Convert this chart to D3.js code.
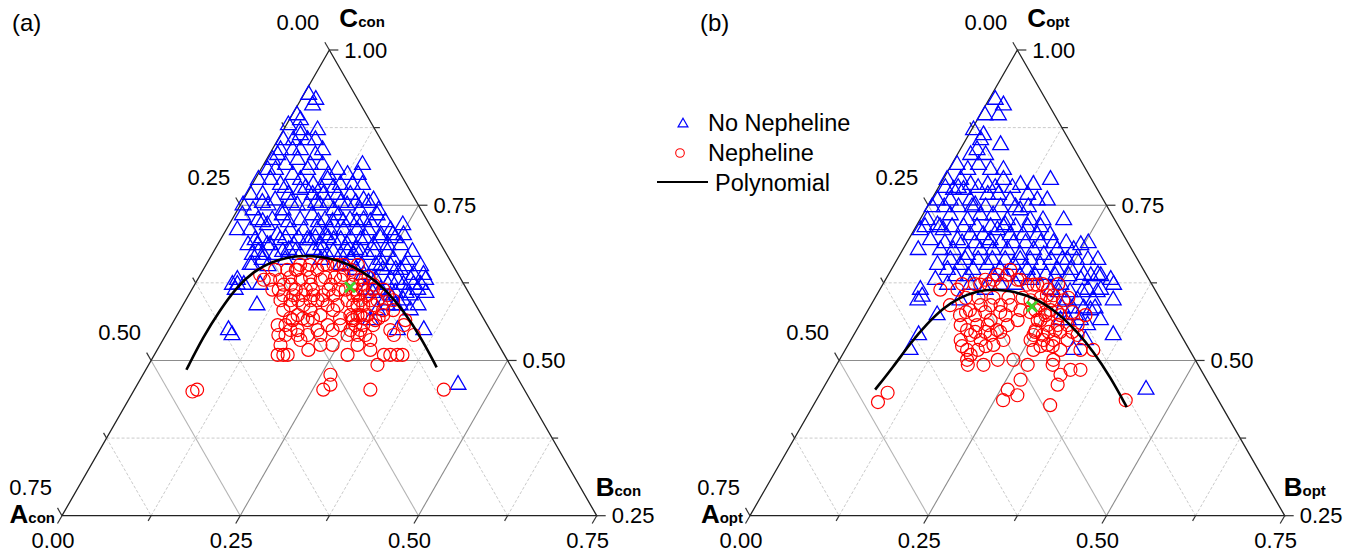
<!DOCTYPE html>
<html>
<head>
<meta charset="utf-8">
<script src="https://cdn.jsdelivr.net/npm/d3@7"></script>
<style>
  body { margin: 0; background: #fff; }
  text { font-family: "Liberation Sans", Arial, Helvetica, sans-serif; fill: #000; }
</style>
</head>
<body>
<svg id="chart" width="1360" height="555"></svg>
<script>
// ---- data: [B, C] pairs (A = 1 - B - C) ----
var majorTicks = [0, 0.25, 0.5, 0.75];
var minorTicks = [0.125, 0.375, 0.625];
var gridValues = [0.125, 0.25, 0.375, 0.5, 0.625];
var legendLabels = ["No Nepheline", "Nepheline", "Polynomial"];

var conNoNepheline = [
  [0.007,0.928],[0.021,0.920],[0.021,0.911],[0.007,0.895],[0.016,0.887],[0.003,0.879],[0.024,0.871],[0.048,0.871],[0.028,0.863],[0.008,0.855],
  [0.022,0.855],[0.042,0.855],[0.053,0.855],[0.012,0.839],[0.029,0.839],[0.040,0.839],[0.065,0.831],[0.071,0.839],[0.012,0.831],[0.009,0.823],
  [0.031,0.815],[0.044,0.823],[0.066,0.815],[0.083,0.815],[0.139,0.815],[0.010,0.807],[0.021,0.807],[0.049,0.799],[0.066,0.807],[0.099,0.799],
  [0.108,0.807],[0.126,0.799],[0.141,0.799],[0.155,0.783],[0.005,0.791],[0.022,0.791],[0.040,0.783],[0.064,0.791],[0.086,0.783],[0.102,0.791],
  [0.124,0.783],[0.141,0.783],[0.006,0.767],[0.023,0.767],[0.045,0.758],[0.059,0.767],[0.072,0.775],[0.093,0.767],[0.108,0.767],[0.128,0.767],
  [0.146,0.767],[0.169,0.758],[0.183,0.758],[0.004,0.750],[0.022,0.742],[0.039,0.750],[0.064,0.742],[0.080,0.750],[0.094,0.750],[0.112,0.750],
  [0.135,0.742],[0.150,0.750],[0.172,0.742],[0.198,0.742],[0.011,0.734],[0.037,0.726],[0.057,0.726],[0.067,0.734],[0.096,0.726],[0.109,0.734],
  [0.131,0.726],[0.146,0.734],[0.166,0.726],[0.185,0.726],[0.200,0.734],[0.231,0.710],[0.244,0.718],[0.016,0.710],[0.034,0.710],[0.054,0.718],
  [0.076,0.702],[0.090,0.710],[0.109,0.710],[0.128,0.710],[0.146,0.710],[0.165,0.710],[0.184,0.710],[0.200,0.710],[0.221,0.702],[0.238,0.702],
  [0.253,0.702],[0.049,0.694],[0.070,0.686],[0.084,0.694],[0.107,0.686],[0.122,0.694],[0.145,0.686],[0.159,0.694],[0.182,0.686],[0.197,0.694],
  [0.219,0.686],[0.239,0.686],[0.257,0.686],[0.043,0.686],[0.057,0.670],[0.072,0.670],[0.089,0.670],[0.104,0.678],[0.124,0.670],[0.139,0.678],
  [0.162,0.670],[0.181,0.670],[0.199,0.670],[0.219,0.670],[0.241,0.662],[0.259,0.662],[0.279,0.662],[0.062,0.654],[0.252,0.646],[0.277,0.646],
  [0.299,0.638],[0.056,0.630],[0.053,0.622],[0.069,0.622],[0.281,0.630],[0.299,0.630],[0.317,0.622],[0.271,0.622],[0.056,0.686],[0.074,0.686],
  [0.065,0.654],[0.075,0.662],[0.060,0.622],[0.061,0.614],[0.092,0.622],[0.104,0.589],[0.084,0.549],[0.093,0.541],[0.313,0.638],[0.293,0.622],
  [0.317,0.614],[0.305,0.597],[0.323,0.581],[0.305,0.589],[0.287,0.589],[0.277,0.581],[0.275,0.565],[0.321,0.549],[0.358,0.549],[0.450,0.461],
  [0.229,0.638],[0.189,0.654],[0.214,0.646],[0.243,0.630],[0.265,0.614],[0.283,0.605],[0.244,0.614],[0.199,0.662],[0.238,0.654],[0.270,0.646],
  [0.280,0.597],[0.311,0.605],[0.307,0.622],[0.157,0.662],[0.126,0.694],[0.143,0.702],[0.169,0.694],[0.198,0.678],[0.107,0.662],
  [0.049,0.778],[0.078,0.778],[0.099,0.778],[0.117,0.778],
  [0.029,0.754],[0.069,0.754],[0.104,0.754],[0.121,0.754],[0.139,0.754],[0.160,0.754],[0.178,0.754],
  [0.045,0.723],[0.081,0.723],[0.123,0.723],[0.143,0.723],[0.158,0.723],[0.177,0.723],[0.196,0.723],[0.217,0.723],
  [0.057,0.697],[0.090,0.697],[0.108,0.697],[0.132,0.697],[0.150,0.697],[0.181,0.697],[0.202,0.697],[0.223,0.697],[0.244,0.697],
  [0.063,0.675],[0.097,0.675],[0.115,0.675],[0.150,0.675],[0.168,0.675],[0.188,0.675],[0.206,0.675],[0.225,0.675],[0.244,0.675],[0.279,0.675],
  [0.088,0.652],[0.196,0.652],[0.220,0.652],[0.246,0.652],[0.260,0.652],[0.281,0.652],[0.302,0.652],
  [0.250,0.630],[0.271,0.630],[0.320,0.630],
  [0.256,0.609],[0.288,0.609],[0.303,0.609],[0.331,0.609],
  [0.298,0.589],[0.330,0.589]
];
var conNepheline = [
  [0.084,0.638],[0.102,0.630],[0.132,0.646],[0.146,0.646],[0.160,0.646],[0.170,0.654],[0.184,0.654],[0.201,0.638],[0.116,0.630],[0.135,0.622],
  [0.145,0.630],[0.163,0.622],[0.173,0.630],[0.191,0.622],[0.201,0.630],[0.215,0.638],[0.237,0.622],[0.251,0.622],[0.133,0.605],[0.147,0.605],
  [0.161,0.605],[0.175,0.605],[0.189,0.605],[0.203,0.605],[0.237,0.605],[0.251,0.605],[0.269,0.597],[0.279,0.605],[0.133,0.597],[0.151,0.589],
  [0.169,0.589],[0.185,0.597],[0.203,0.589],[0.217,0.589],[0.239,0.589],[0.253,0.589],[0.267,0.589],[0.285,0.581],[0.145,0.581],[0.169,0.573],
  [0.183,0.581],[0.201,0.573],[0.215,0.581],[0.253,0.573],[0.267,0.573],[0.289,0.573],[0.299,0.581],[0.149,0.557],[0.160,0.557],[0.181,0.549],
  [0.187,0.565],[0.209,0.549],[0.219,0.557],[0.237,0.557],[0.251,0.565],[0.269,0.549],[0.283,0.557],[0.311,0.549],[0.326,0.557],[0.158,0.541],
  [0.168,0.541],[0.185,0.541],[0.199,0.541],[0.217,0.541],[0.255,0.541],[0.269,0.541],[0.291,0.533],[0.320,0.541],[0.348,0.541],[0.169,0.525],
  [0.181,0.509],[0.173,0.509],[0.187,0.509],[0.212,0.517],[0.225,0.525],[0.242,0.525],[0.271,0.509],[0.277,0.525],[0.299,0.517],[0.322,0.509],
  [0.331,0.509],[0.341,0.509],[0.348,0.509],[0.321,0.493],[0.263,0.477],[0.271,0.461],[0.265,0.453],[0.331,0.453],[0.434,0.453],[0.088,0.453],
  [0.083,0.450],[0.093,0.630],[0.132,0.654],[0.146,0.654],[0.165,0.654],[0.179,0.654],[0.193,0.654],[0.213,0.654],[0.130,0.646],[0.125,0.622],
  [0.231,0.605],[0.245,0.589],[0.257,0.573],[0.258,0.557],[0.269,0.557],[0.259,0.597],[0.240,0.614],[0.222,0.622],[0.216,0.614],[0.229,0.630],
  [0.243,0.573],[0.280,0.541],[0.170,0.614],[0.113,0.614],[0.166,0.565],[0.193,0.533],[0.282,0.565],[0.324,0.565],
  [0.101,0.646],[0.118,0.646],[0.207,0.646],
  [0.128,0.634],[0.156,0.634],[0.177,0.634],[0.191,0.634],[0.238,0.634],
  [0.122,0.614],[0.146,0.614],[0.160,0.614],[0.192,0.614],[0.206,0.614],[0.230,0.614],[0.254,0.614],[0.269,0.614],
  [0.147,0.597],[0.158,0.597],[0.175,0.597],[0.192,0.597],[0.227,0.597],[0.245,0.597],[0.291,0.597],
  [0.161,0.568],[0.179,0.568],[0.193,0.568],[0.231,0.568],[0.248,0.568],[0.264,0.568],[0.285,0.568],
  [0.171,0.549],[0.230,0.549],[0.255,0.549]
];
var conPolyB = [0.057,0.054,0.056,0.061,0.072,0.088,0.107,0.130,0.154,0.180,0.209,0.240,0.276,0.315,0.359,0.406];
var conPolyC = [0.485,0.538,0.581,0.619,0.643,0.658,0.666,0.669,0.667,0.662,0.651,0.635,0.611,0.579,0.538,0.489];
var conOptimum = [0.220, 0.618];

var optNoNepheline = [
  [0.009,0.920],[0.025,0.911],[0.026,0.895],[0.007,0.895],[0.003,0.871],[0.021,0.863],[0.053,0.847],[0.021,0.855],[0.024,0.839],[0.019,0.831],
  [0.040,0.831],[0.008,0.815],[0.027,0.807],[0.077,0.807],[0.059,0.807],[0.038,0.815],[0.006,0.791],[0.025,0.791],[0.043,0.783],[0.067,0.783],
  [0.085,0.791],[0.113,0.783],[0.131,0.783],[0.151,0.791],[0.023,0.775],[0.037,0.775],[0.009,0.758],[0.027,0.758],[0.055,0.758],[0.075,0.767],
  [0.090,0.767],[0.111,0.758],[0.131,0.767],[0.149,0.758],[0.163,0.758],[0.011,0.726],[0.029,0.718],[0.039,0.734],[0.067,0.726],[0.081,0.734],
  [0.099,0.734],[0.123,0.726],[0.133,0.742],[0.155,0.726],[0.173,0.726],[0.202,0.726],[0.009,0.710],[0.022,0.678],[0.031,0.694],[0.041,0.710],
  [0.069,0.694],[0.083,0.702],[0.101,0.702],[0.117,0.710],[0.139,0.702],[0.157,0.702],[0.177,0.702],[0.195,0.702],[0.217,0.678],[0.240,0.678],
  [0.246,0.686],[0.053,0.678],[0.071,0.678],[0.095,0.670],[0.109,0.678],[0.127,0.678],[0.147,0.678],[0.169,0.670],[0.184,0.678],[0.202,0.670],
  [0.239,0.662],[0.268,0.662],[0.282,0.662],[0.061,0.654],[0.079,0.646],[0.093,0.654],[0.115,0.646],[0.131,0.654],[0.153,0.646],[0.168,0.654],
  [0.191,0.646],[0.205,0.654],[0.233,0.646],[0.252,0.646],[0.274,0.638],[0.294,0.638],[0.316,0.630],[0.057,0.614],[0.062,0.597],[0.065,0.603],
  [0.101,0.573],[0.091,0.541],[0.091,0.517],[0.070,0.630],[0.091,0.622],[0.324,0.622],[0.336,0.597],[0.310,0.614],[0.308,0.597],[0.292,0.614],
  [0.274,0.630],[0.286,0.597],[0.320,0.557],[0.320,0.517],[0.364,0.541],[0.454,0.453],[0.240,0.614],[0.269,0.597],[0.250,0.622],[0.295,0.573],
  [0.278,0.565],[0.221,0.638],[0.204,0.630],[0.187,0.622],[0.165,0.622],[0.148,0.614],[0.123,0.622],[0.121,0.597],[0.173,0.662],[0.312,0.581],
  [0.334,0.565],[0.329,0.533],[0.115,0.694],[0.124,0.718],[0.066,0.750],
  [0.010,0.778],[0.028,0.778],[0.056,0.778],[0.080,0.778],[0.104,0.778],
  [0.007,0.747],[0.024,0.747],[0.044,0.747],[0.063,0.747],[0.082,0.747],[0.103,0.747],[0.124,0.747],[0.142,0.747],
  [0.013,0.715],[0.034,0.715],[0.051,0.715],[0.067,0.715],[0.086,0.715],[0.105,0.715],[0.123,0.715],[0.140,0.715],[0.157,0.715],[0.175,0.715],
  [0.054,0.689],[0.078,0.689],[0.096,0.689],[0.115,0.689],[0.132,0.689],[0.150,0.689],[0.167,0.689],[0.188,0.689],[0.206,0.689],[0.224,0.689],[0.255,0.689],
  [0.075,0.662],[0.096,0.662],[0.114,0.662],[0.134,0.662],[0.152,0.662],[0.187,0.662],[0.216,0.662],[0.232,0.662],[0.252,0.662],
  [0.095,0.636],[0.113,0.636],[0.148,0.636],[0.165,0.636],[0.186,0.636],[0.207,0.636],[0.235,0.636],[0.254,0.636],[0.285,0.636],[0.299,0.636],
  [0.253,0.610],[0.269,0.610],[0.286,0.610],[0.307,0.610],
  [0.271,0.584],[0.285,0.584],[0.301,0.584],[0.317,0.584],
  [0.289,0.565],[0.306,0.565]
];
var optNepheline = [
  [0.085,0.614],[0.109,0.614],[0.137,0.622],[0.152,0.630],[0.167,0.638],[0.189,0.630],[0.212,0.622],[0.236,0.614],[0.248,0.605],[0.266,0.597],
  [0.133,0.573],[0.143,0.581],[0.154,0.589],[0.168,0.589],[0.182,0.589],[0.196,0.589],[0.214,0.581],[0.220,0.597],[0.238,0.589],[0.256,0.581],
  [0.274,0.573],[0.142,0.557],[0.155,0.549],[0.165,0.557],[0.180,0.557],[0.197,0.549],[0.208,0.557],[0.218,0.565],[0.246,0.565],[0.264,0.557],
  [0.278,0.557],[0.292,0.557],[0.306,0.557],[0.154,0.533],[0.164,0.541],[0.182,0.533],[0.192,0.541],[0.214,0.533],[0.252,0.541],[0.270,0.533],
  [0.284,0.533],[0.304,0.533],[0.314,0.541],[0.171,0.517],[0.186,0.517],[0.204,0.525],[0.264,0.517],[0.280,0.525],[0.302,0.517],[0.348,0.517],
  [0.330,0.517],[0.179,0.501],[0.180,0.509],[0.222,0.501],[0.244,0.501],[0.268,0.493],[0.300,0.501],[0.303,0.493],[0.322,0.477],[0.332,0.485],
  [0.346,0.485],[0.184,0.493],[0.206,0.493],[0.270,0.469],[0.326,0.461],[0.260,0.453],[0.278,0.444],[0.262,0.436],[0.332,0.428],[0.094,0.448],
  [0.088,0.433],[0.434,0.436],[0.140,0.630],[0.153,0.638],[0.167,0.646],[0.185,0.630],[0.203,0.622],[0.217,0.622],[0.239,0.605],[0.235,0.581],
  [0.250,0.565],[0.253,0.573],[0.251,0.549],[0.265,0.541],[0.252,0.533],[0.248,0.597],[0.279,0.549],[0.154,0.573],[0.180,0.565],[0.197,0.573],
  [0.111,0.589],[0.309,0.573],
  [0.111,0.623],[0.129,0.623],[0.148,0.623],[0.167,0.623],[0.224,0.623],[0.246,0.623],
  [0.127,0.601],[0.145,0.601],[0.166,0.601],[0.187,0.601],[0.207,0.601],[0.232,0.601],[0.271,0.601],
  [0.139,0.578],[0.166,0.578],[0.187,0.578],[0.229,0.578],[0.250,0.578],[0.267,0.578],[0.288,0.578],
  [0.168,0.546],[0.182,0.546],[0.203,0.546],[0.252,0.546],[0.271,0.546],[0.287,0.546],[0.304,0.546],
  [0.161,0.523],[0.194,0.523],[0.271,0.523],[0.288,0.523]
];
var optPolyB = [0.074,0.081,0.086,0.094,0.104,0.119,0.138,0.159,0.184,0.211,0.240,0.274,0.311,0.350,0.394,0.441];
var optPolyC = [0.453,0.489,0.528,0.560,0.585,0.602,0.612,0.615,0.612,0.605,0.593,0.573,0.546,0.514,0.473,0.425];
var optOptimum = [0.227, 0.587];

// ---- layout ----
var svg = d3.select("#chart");
var fmt = d3.format(".2f");

var panels = [
  {letter: "(a)", sub: "con", xA: 62, xB: 596.7, yBase: 515.7, yApex: 50,
   noNeph: conNoNepheline, neph: conNepheline, polyB: conPolyB, polyC: conPolyC, optimum: conOptimum, legend: false},
  {letter: "(b)", sub: "opt", xA: 750, xB: 1284.7, yBase: 515.7, yApex: 50,
   noNeph: optNoNepheline, neph: optNepheline, polyB: optPolyB, polyC: optPolyC, optimum: optOptimum, legend: true}
];

var drawPanel = function(p) {
  var xs = d3.scaleLinear().domain([0, 0.75]).range([p.xA, p.xB]);
  var ys = d3.scaleLinear().domain([0.25, 1]).range([p.yBase, p.yApex]);
  // ternary (B, C) -> screen
  var proj = function(B, C) { return [xs(B + (C - 0.25) / 2), ys(C)]; };
  var g = svg.append("g");

  // grid
  var grid = g.append("g");
  gridValues.forEach(function(v) {
    var solid = (v === 0.25 || v === 0.5);
    var segs = [
      [proj(0, 0.25 + v), proj(0.75 - v, 0.25 + v)],   // constant C
      [proj(0, 1 - v), proj(0.75 - v, 0.25)],          // constant A
      [proj(v, 0.25), proj(v, 1 - v)]                  // constant B
    ];
    segs.forEach(function(s, i) {
      grid.append("line")
        .attr("x1", s[0][0]).attr("y1", s[0][1])
        .attr("x2", s[1][0]).attr("y2", s[1][1])
        .attr("stroke", solid ? (i === 1 ? "#b4b4b4" : "#8c8c8c") : "#c4c4c4")
        .attr("stroke-width", solid ? 1.1 : 0.9)
        .attr("stroke-dasharray", solid ? null : "3,2");
    });
  });

  // triangle frame
  var corners = [proj(0, 0.25), proj(0.75, 0.25), proj(0, 1)];
  g.append("path")
    .attr("d", d3.line()(corners) + "Z")
    .attr("fill", "none")
    .attr("stroke", "#222")
    .attr("stroke-width", 1.3);

  // ticks
  var allTicks = majorTicks.concat(minorTicks);
  var ticks = g.append("g").attr("stroke", "#333").attr("stroke-width", 1.2);
  allTicks.forEach(function(v) {
    var len = majorTicks.indexOf(v) >= 0 ? 9 : 6;
    var pa = proj(0, 1 - v);        // A axis, left edge
    var pb = proj(v, 0.25);         // B axis, bottom edge
    var pc = proj(0.75 - v, 0.25 + v); // C axis, right edge
    ticks.append("line").attr("x1", pa[0]).attr("y1", pa[1])
      .attr("x2", pa[0] - 0.5 * len).attr("y2", pa[1] - 0.866 * len);
    ticks.append("line").attr("x1", pb[0]).attr("y1", pb[1])
      .attr("x2", pb[0] - 0.5 * len).attr("y2", pb[1] + 0.866 * len);
    ticks.append("line").attr("x1", pc[0]).attr("y1", pc[1])
      .attr("x2", pc[0] + len).attr("y2", pc[1]);
  });

  // tick labels
  majorTicks.forEach(function(v) {
    var pa = proj(0, 1 - v);
    var pb = proj(v, 0.25);
    var pc = proj(0.75 - v, 0.25 + v);
    g.append("text").attr("x", pa[0] - 10).attr("y", pa[1] - 28)
      .attr("text-anchor", "end").attr("dominant-baseline", "central")
      .style("font-size", "22px").text(fmt(v));
    g.append("text").attr("x", pb[0] - 9).attr("y", pb[1] + 25)
      .attr("text-anchor", "middle").attr("dominant-baseline", "central")
      .style("font-size", "22px").text(fmt(v));
    g.append("text").attr("x", pc[0] + 15).attr("y", pc[1])
      .attr("text-anchor", "start").attr("dominant-baseline", "central")
      .style("font-size", "22px").text(fmt(0.25 + v));
  });

  // axis titles
  var axisTitle = function(x, y, anchor, letter) {
    var t = g.append("text").attr("x", x).attr("y", y).attr("text-anchor", anchor)
      .style("font-weight", "bold");
    t.append("tspan").style("font-size", "26px").text(letter);
    t.append("tspan").style("font-size", "15px").text(p.sub);
  };
  axisTitle(corners[2][0] + 10, corners[2][1] - 23, "start", "C");
  axisTitle(corners[0][0] - 7, corners[0][1] + 7, "end", "A");
  axisTitle(corners[1][0] - 1, corners[1][1] - 20, "start", "B");

  // panel letter
  g.append("text").attr("x", p.xA - 50).attr("y", 22)
    .attr("dominant-baseline", "central").style("font-size", "24px").text(p.letter);

  // scatter: no nepheline
  var tri = d3.symbol().type(d3.symbolTriangle).size(108);
  g.append("g").selectAll("path")
    .data(p.noNeph)
    .enter().append("path")
    .attr("d", tri)
    .attr("transform", function(d) { var q = proj(d[0], d[1]); return "translate(" + q[0] + "," + q[1] + ")"; })
    .attr("fill", "none")
    .attr("stroke", "#0000ff")
    .attr("stroke-width", 1.3);

  // scatter: nepheline
  g.append("g").selectAll("circle")
    .data(p.neph)
    .enter().append("circle")
    .attr("cx", function(d) { return proj(d[0], d[1])[0]; })
    .attr("cy", function(d) { return proj(d[0], d[1])[1]; })
    .attr("r", 6.5)
    .attr("fill", "none")
    .attr("stroke", "#ff0000")
    .attr("stroke-width", 1.2);

  // polynomial boundary
  var polyPts = p.polyB.map(function(b, i) { return proj(b, p.polyC[i]); });
  g.append("path")
    .attr("d", d3.line().curve(d3.curveBasis)(polyPts))
    .attr("fill", "none")
    .attr("stroke", "#000")
    .attr("stroke-width", 2.6);

  // optimum marker
  var o = proj(p.optimum[0], p.optimum[1]);
  g.append("path")
    .attr("d", "M" + (o[0] - 5) + "," + (o[1] - 5) + "L" + (o[0] + 5) + "," + (o[1] + 5) +
               "M" + (o[0] - 5) + "," + (o[1] + 5) + "L" + (o[0] + 5) + "," + (o[1] - 5))
    .attr("stroke", "#3fd22a")
    .attr("stroke-width", 3);

  if (p.legend) {
    var lg = g.append("g");
    lg.append("path").attr("d", d3.symbol().type(d3.symbolTriangle).size(42))
      .attr("transform", "translate(683,124)")
      .attr("fill", "none").attr("stroke", "#0000ff").attr("stroke-width", 1.2);
    lg.append("circle").attr("cx", 680).attr("cy", 153).attr("r", 4.3)
      .attr("fill", "none").attr("stroke", "#ff0000").attr("stroke-width", 1.1);
    lg.append("line").attr("x1", 657).attr("x2", 708).attr("y1", 182).attr("y2", 182)
      .attr("stroke", "#000").attr("stroke-width", 2);
    var lx = [708, 708, 715];
    var ly = [123, 153, 183];
    legendLabels.forEach(function(s, i) {
      lg.append("text").attr("x", lx[i]).attr("y", ly[i])
        .attr("dominant-baseline", "central").style("font-size", "23.5px").text(s);
    });
  }
};

panels.forEach(drawPanel);
</script>
</body>
</html>
